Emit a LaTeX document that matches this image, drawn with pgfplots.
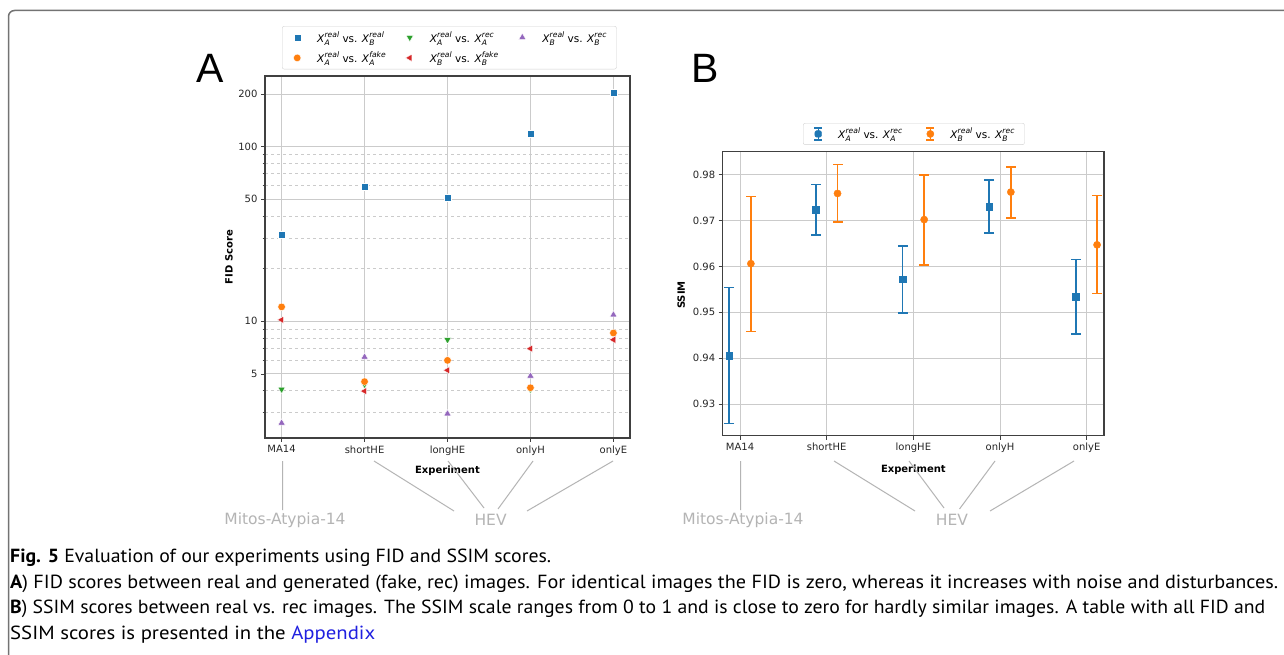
\documentclass[border=0pt]{standalone}
\usepackage{fontspec}
\setmainfont{DejaVu Sans}
\newfontfamily\capfont{PT Sans}
\newfontfamily\letterfont{Liberation Sans}
\usepackage{graphicx}
\usepackage{pgfplots}
\usepackage{pgfplotstable}
\pgfplotsset{compat=1.18}

\definecolor{c1}{HTML}{1F77B4}
\definecolor{c2}{HTML}{FF7F0E}
\definecolor{c3}{HTML}{2CA02C}
\definecolor{c4}{HTML}{D62728}
\definecolor{c5}{HTML}{9467BD}
\definecolor{gridc}{HTML}{CBCBCB}
\definecolor{annot}{HTML}{B4B4B4}
\definecolor{linkblue}{HTML}{2020E0}

% X with stacked sub- and superscript, in the text font
\newcommand\XX[2]{\textit{X}\rlap{\raisebox{-0.5ex}{\fontsize{7.6}{8}\selectfont\textit{#1}}}\raisebox{0.9ex}{\fontsize{7.6}{8}\selectfont\textit{#2}}}

% FID scores (log axis)
\pgfplotstableread{
x blue orange green red purple
0 31.3 12.1 4.08 10.2 2.62
1 59.3 4.52 4.35 3.99 6.25
2 51.3 5.98 7.85 5.25 2.96
3 118.6 4.17 4.08 6.98 4.87
4 202.8 8.58 8.61 7.85 10.9
}\fidtable

% SSIM means
\pgfplotstableread{
xa ya xb yb
-0.125 0.9405 0.125 0.9606
0.875 0.9723 1.125 0.9759
1.875 0.9572 2.125 0.9702
2.875 0.9730 3.125 0.9762
3.875 0.9534 4.12 0.9647
}\ssimtable

\pgfplotsset{
  panel/.style={
    scale only axis,
    axis line style={black!75, line width=1.2pt},
    tick align=outside, tick pos=left,
    major tick length=4pt, minor tick length=2.5pt,
    tick style={black!75, line width=0.9pt},
    ticklabel style={font=\fontsize{10}{12}\selectfont, text=black!85},
    xmin=-0.2, xmax=4.2,
    xtick={0,...,4}, xticklabels={MA14,shortHE,longHE,onlyH,onlyE},
    major grid style={gridc, line width=1pt},
    minor grid style={gridc, dashed, line width=0.8pt},
    label style={font=\bfseries\fontsize{10}{12}\selectfont},
    legend cell align=left,
  },
  dotleg/.style={legend image code/.code={\path[draw=none,fill=none] (-7pt,0pt) -- (18pt,0pt);\draw[##1, only marks] plot coordinates {(0pt,0pt)};}},
  bar/.style={forget plot, line width=1.8pt, mark=-, mark size=5pt, mark options={line width=1.5pt}},
}

\begin{document}
\begin{tikzpicture}
\begin{scope}[x=1pt,y=-1pt]
\fill[white] (0,0) rectangle (1284,655);
\useasboundingbox (0,0) rectangle (1284,655);
\draw[black!55, line width=1.5pt, rounded corners=6pt] (8.5,660) -- (8.5,10.5) -- (1290,10.5);
\end{scope}

% ---- panel A: FID ----
\begin{axis}[panel,
  at={(265pt,-438pt)}, anchor=south west,
  width=365pt, height=362pt,
  ymode=log, ymin=2.15, ymax=253.6,
  ytick={5,10,50,100,200}, yticklabels={5,10,50,100,200},
  minor ytick={3,4,6,7,8,9,20,30,40,60,70,80,90},
  grid=both, xminorgrids=false,
  xlabel={Experiment}, ylabel={FID Score},
  xlabel style={at={(axis description cs:0.5,-0.091)}, anchor=center},
  ylabel style={at={(axis description cs:-0.099,0.5)}, anchor=center, rotate=0},
  legend columns=3,
  legend style={at={(axis description cs:0.0466,1.138)}, anchor=north west,
    draw=black!18, rounded corners=2pt, fill=white,
    font=\fontsize{10.5}{12}\selectfont, inner xsep=8pt, inner ysep=3pt,
    /tikz/row sep=4pt,
    /tikz/every even column/.append style={column sep=15pt}},
]
\addplot[dotleg, only marks, mark=square*, mark size=3.5pt, mark options={draw=white, fill=c1, line width=0.4pt}] table[x=x, y=blue] \fidtable;
\addlegendentry{\XX{A}{real} vs. \XX{B}{real}}
\addplot[dotleg, only marks, mark=triangle*, mark size=4.2pt, mark options={rotate=180, draw=white, fill=c3, line width=0.4pt}] table[x=x, y=green] \fidtable;
\addlegendentry{\XX{A}{real} vs. \XX{A}{rec}}
\addplot[dotleg, only marks, mark=triangle*, mark size=4.2pt, mark options={draw=white, fill=c5, line width=0.4pt}] table[x=x, y=purple] \fidtable;
\addlegendentry{\XX{B}{real} vs. \XX{B}{rec}}
\addplot[dotleg, only marks, mark=*, mark size=3.8pt, mark options={draw=white, fill=c2, line width=0.4pt}] table[x=x, y=orange] \fidtable;
\addlegendentry{\XX{A}{real} vs. \XX{A}{fake}}
\addplot[dotleg, only marks, mark=triangle*, mark size=4.2pt, mark options={rotate=90, draw=white, fill=c4, line width=0.4pt}] table[x=x, y=red] \fidtable;
\addlegendentry{\XX{B}{real} vs. \XX{B}{fake}}
\end{axis}

% ---- panel B: SSIM ----
\begin{axis}[panel,
  at={(722.7pt,-435.7pt)}, anchor=south west,
  width=381.3pt, height=284pt,
  ymin=0.9231, ymax=0.985,
  ytick={0.93,0.94,0.95,0.96,0.97,0.98},
  yticklabel style={/pgf/number format/.cd, fixed, fixed zerofill, precision=2, assume math mode=true},
  grid=major,
  xlabel={Experiment}, ylabel={SSIM},
  xlabel style={at={(axis description cs:0.5,-0.121)}, anchor=center},
  ylabel style={at={(axis description cs:-0.109,0.495)}, anchor=center},
  legend columns=2,
  legend style={at={(axis description cs:0.2106,1.101)}, anchor=north west,
    draw=black!18, rounded corners=2pt, fill=white,
    font=\fontsize{10.5}{12}\selectfont, inner xsep=8pt, inner ysep=2.5pt,
    /tikz/every even column/.append style={column sep=19pt}},
]
% error bars (lower and upper end of each bar)
\addplot[bar, c1] coordinates {(-0.125,0.9258) (-0.125,0.9554)};
\addplot[bar, c1] coordinates {(0.875,0.9668) (0.875,0.9778)};
\addplot[bar, c1] coordinates {(1.875,0.9498) (1.875,0.9644)};
\addplot[bar, c1] coordinates {(2.875,0.9673) (2.875,0.9788)};
\addplot[bar, c1] coordinates {(3.875,0.9453) (3.875,0.9615)};
\addplot[bar, c2] coordinates {(0.125,0.9458) (0.125,0.9752)};
\addplot[bar, c2] coordinates {(1.125,0.9697) (1.125,0.9822)};
\addplot[bar, c2] coordinates {(2.125,0.9603) (2.125,0.9799)};
\addplot[bar, c2] coordinates {(3.125,0.9706) (3.125,0.9817)};
\addplot[bar, c2] coordinates {(4.12,0.9541) (4.12,0.9754)};
% means
\addplot[only marks, mark=square*, mark size=3.3pt, color=c1,
  legend image code/.code={\path[draw=none,fill=none] (-7pt,0pt) -- (18pt,0pt);
    \draw[c1, line width=1.3pt] (0pt,-6pt) -- (0pt,6pt) (-4pt,-6pt) -- (4pt,-6pt) (-4pt,6pt) -- (4pt,6pt);
    \fill[c1] (-3.3pt,-3.3pt) rectangle (3.3pt,3.3pt);}]
  table[x=xa, y=ya] \ssimtable;
\addlegendentry{\XX{A}{real} vs. \XX{A}{rec}}
\addplot[only marks, mark=*, mark size=3.6pt, color=c2,
  legend image code/.code={\path[draw=none,fill=none] (-7pt,0pt) -- (18pt,0pt);
    \draw[c2, line width=1.3pt] (0pt,-6pt) -- (0pt,6pt) (-4pt,-6pt) -- (4pt,-6pt) (-4pt,6pt) -- (4pt,6pt);
    \fill[c2] (0pt,0pt) circle (3.6pt);}]
  table[x=xb, y=yb] \ssimtable;
\addlegendentry{\XX{B}{real} vs. \XX{B}{rec}}
\end{axis}

\begin{scope}[x=1pt,y=-1pt]
% panel letters
\node[anchor=base west, inner sep=0pt] at (196,83) {\letterfont\fontsize{41}{41}\selectfont A};
\node[anchor=base west, inner sep=0pt] at (691,83) {\letterfont\fontsize{41}{41}\selectfont B};
% dataset annotations
\draw[annot, line width=1pt]
  (282.6,461) -- (282.6,510)
  (374,461) -- (454,511) (448,461) -- (484,508)
  (533,461) -- (498,509) (613,461) -- (527,511);
\draw[annot, line width=1pt]
  (740.5,461) -- (740.5,510)
  (834,461) -- (915,511) (909,461) -- (944,508)
  (995,461) -- (959.5,509) (1074,461) -- (990,511);
\node[annot, font=\fontsize{15.5}{16}\selectfont] at (285,520) {Mitos-Atypia-14};
\node[annot, font=\fontsize{15.5}{16}\selectfont] at (490.6,520) {HEV};
\node[annot, font=\fontsize{15.5}{16}\selectfont] at (743,520) {Mitos-Atypia-14};
\node[annot, font=\fontsize{15.5}{16}\selectfont] at (952,520) {HEV};
% caption
\begin{scope}[every node/.style={anchor=base west, inner sep=0pt, font=\capfont\fontsize{19}{22}\selectfont}]
\node at (10,562) {\resizebox{541pt}{\height}{\textbf{Fig. 5} Evaluation of our experiments using FID and SSIM scores.}};
\node at (10,588) {\resizebox{1268pt}{\height}{\textbf{A}) FID scores between real and generated (fake, rec) images. For identical images the FID is zero, whereas it increases with noise and disturbances.}};
\node at (10,613) {\resizebox{1255pt}{\height}{\textbf{B}) SSIM scores between real vs. rec images. The SSIM scale ranges from 0 to 1 and is close to zero for hardly similar images. A table with all FID and}};
\node at (10,639) {\resizebox{365pt}{\height}{SSIM scores is presented in the \textcolor{linkblue}{Appendix}}};
\end{scope}
\end{scope}
\end{tikzpicture}
\end{document}
